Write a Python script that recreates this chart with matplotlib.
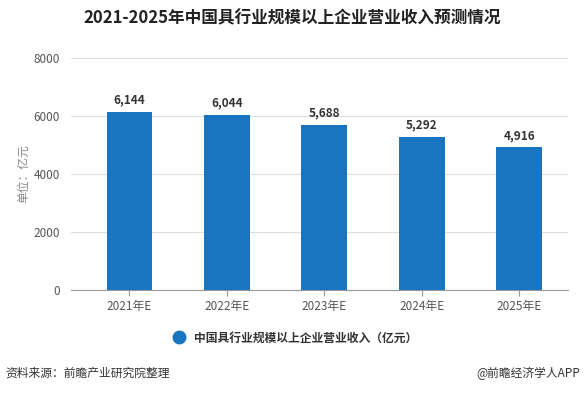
import matplotlib.pyplot as plt

plt.rcParams['font.family'] = ['Noto Sans CJK SC', 'DejaVu Sans']

years = ['2021年E', '2022年E', '2023年E', '2024年E', '2025年E']
revenue = [6144, 6044, 5688, 5292, 4916]
series_name = '中国具行业规模以上企业营业收入（亿元）'
title = '2021-2025年中国具行业规模以上企业营业收入预测情况'

bar_color = '#1a75c0'
text_gray = '#555555'

fig = plt.figure(figsize=(5.84, 3.93), dpi=100)
ax = fig.add_axes([71 / 584, 1 - 290 / 393, (568 - 71) / 584, (290 - 58) / 393])

x = range(len(years))
bars = ax.bar(x, revenue, width=0.47, color=bar_color, zorder=3, label=series_name)

for xi, v in zip(x, revenue):
    ax.text(xi, v + 180, f'{v:,}', ha='center', va='bottom',
            fontsize=8.5, fontweight='bold', color='#333333')

ax.set_xlim(-0.6, 4.5)
ax.set_ylim(0, 8000)
ax.set_yticks([0, 2000, 4000, 6000, 8000])
ax.set_xticks(list(x))
ax.set_xticklabels(years)
ax.tick_params(axis='y', length=0, labelsize=8.5, labelcolor=text_gray, pad=8)
ax.tick_params(axis='x', length=4, color='#999999', labelsize=8.5,
               labelcolor=text_gray, pad=3)
ax.grid(axis='y', color='#dddddd', linewidth=0.8, zorder=0)
for side in ['top', 'right', 'left']:
    ax.spines[side].set_visible(False)
ax.spines['bottom'].set_color('#999999')

ax.set_ylabel('单位：亿元', fontsize=8.5, color='#888888', labelpad=2)

fig.text(0.5, 1 - 18 / 393, title, ha='center', va='center',
         fontsize=12, fontweight='bold', color='#222222')

leg = fig.legend(handles=[plt.Line2D([], [], marker='o', linestyle='none',
                                     markersize=9, color=bar_color)],
                 labels=[series_name], loc='center', frameon=False,
                 bbox_to_anchor=(0.5, 1 - 338 / 393), fontsize=8.5,
                 handletextpad=0.3)
for t in leg.get_texts():
    t.set_fontweight('bold')
    t.set_color('#333333')

fig.text(5 / 584, 1 - 373 / 393, '资料来源：前瞻产业研究院整理', ha='left',
         va='center', fontsize=8.5, color='#333333')
fig.text(580 / 584, 1 - 373 / 393, '@前瞻经济学人APP', ha='right',
         va='center', fontsize=8.5, color='#333333')

fig.savefig('out.png', dpi=100)
